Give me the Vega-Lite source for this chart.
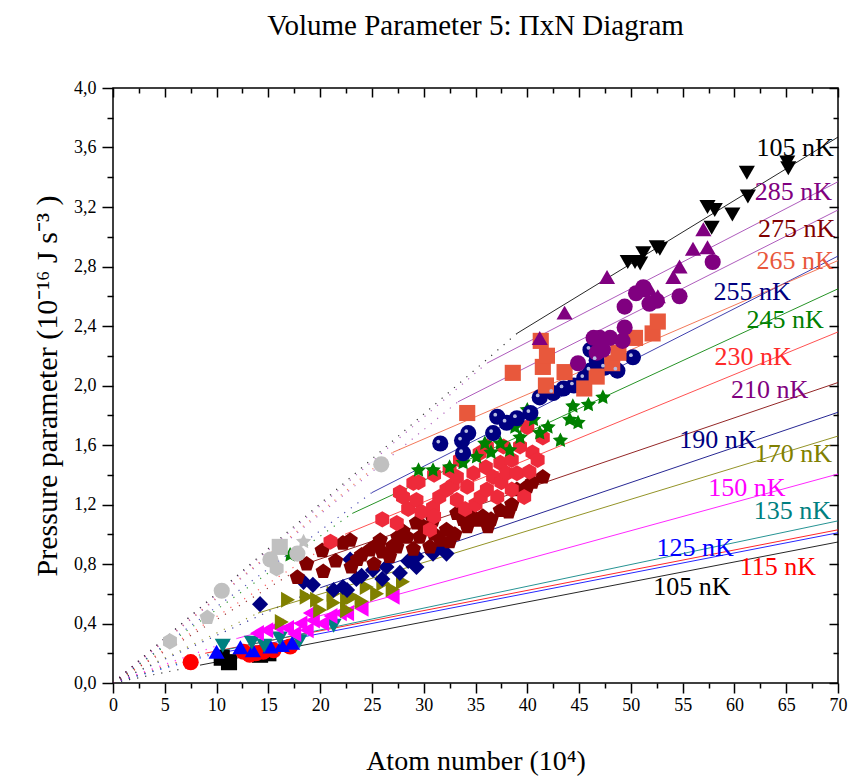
{
  "$schema": "https://vega.github.io/schema/vega-lite/v6.json",
  "width": 725,
  "height": 595,
  "autosize": "none",
  "padding": {"left": 113, "top": 88, "right": 15, "bottom": 98},
  "background": "white",
  "title": {"text": "Volume Parameter 5: ΠxN Diagram", "font": "Liberation Serif", "fontSize": 29, "fontWeight": "normal", "color": "black", "anchor": "middle", "offset": 38},
  "config": {
    "view": {"stroke": "black", "strokeWidth": 1.5},
    "axis": {"labelFont": "Liberation Serif", "titleFont": "Liberation Serif", "labelColor": "black", "titleColor": "black", "tickColor": "black", "titleFontWeight": "normal", "grid": false, "domain": false, "tickWidth": 1.5}
  },
  "datasets": {
    "pts": [
      {"g":"105a","N":10.5,"P":0.17},{"g":"105a","N":11.2,"P":0.14},{"g":"105a","N":14.2,"P":0.19},{"g":"105a","N":15.0,"P":0.2},
      {"g":"115","N":7.5,"P":0.14},{"g":"115","N":12.6,"P":0.21},{"g":"115","N":13.2,"P":0.19},{"g":"115","N":13.8,"P":0.2},{"g":"115","N":14.5,"P":0.21},{"g":"115","N":15.5,"P":0.22},{"g":"115","N":17.1,"P":0.245},
      {"g":"125","N":10.0,"P":0.21},{"g":"125","N":12.3,"P":0.24},{"g":"125","N":13.5,"P":0.22},{"g":"125","N":15.2,"P":0.245},{"g":"125","N":16.3,"P":0.255},{"g":"125","N":17.3,"P":0.27},
      {"g":"135","N":10.6,"P":0.25},{"g":"135","N":13.4,"P":0.27},{"g":"135","N":14.6,"P":0.25},{"g":"135","N":16.1,"P":0.3},{"g":"135","N":18.0,"P":0.28},{"g":"135","N":21.3,"P":0.385},
      {"g":"150","N":13.9,"P":0.335},{"g":"150","N":14.8,"P":0.355},{"g":"150","N":15.8,"P":0.38},{"g":"150","N":16.8,"P":0.37},{"g":"150","N":17.5,"P":0.33},{"g":"150","N":18.1,"P":0.4},{"g":"150","N":18.7,"P":0.355},{"g":"150","N":19.3,"P":0.42},{"g":"150","N":19.0,"P":0.47},{"g":"150","N":20.2,"P":0.4},{"g":"150","N":21.0,"P":0.45},{"g":"150","N":21.9,"P":0.47},{"g":"150","N":22.6,"P":0.47},{"g":"150","N":24.0,"P":0.5},{"g":"150","N":27.0,"P":0.58},
      {"g":"170","N":16.3,"P":0.41},{"g":"170","N":16.9,"P":0.56},{"g":"170","N":18.7,"P":0.58},{"g":"170","N":19.7,"P":0.56},{"g":"170","N":20.0,"P":0.49},{"g":"170","N":21.3,"P":0.54},{"g":"170","N":21.3,"P":0.6},{"g":"170","N":22.6,"P":0.56},{"g":"170","N":22.6,"P":0.49},{"g":"170","N":23.2,"P":0.58},{"g":"170","N":24.0,"P":0.55},{"g":"170","N":24.5,"P":0.645},{"g":"170","N":25.5,"P":0.6},{"g":"170","N":26.1,"P":0.67},{"g":"170","N":27.0,"P":0.63},{"g":"170","N":28.0,"P":0.68},
      {"g":"190","N":14.2,"P":0.53},{"g":"190","N":18.4,"P":0.68},{"g":"190","N":19.3,"P":0.66},{"g":"190","N":21.3,"P":0.625},{"g":"190","N":22.2,"P":0.645},{"g":"190","N":22.6,"P":0.625},{"g":"190","N":22.9,"P":0.83},{"g":"190","N":23.5,"P":0.7},{"g":"190","N":24.0,"P":0.72},{"g":"190","N":25.1,"P":0.76},{"g":"190","N":26.0,"P":0.7},{"g":"190","N":26.4,"P":0.78},{"g":"190","N":27.7,"P":0.74},{"g":"190","N":28.5,"P":0.82},{"g":"190","N":29.3,"P":0.78},{"g":"190","N":29.3,"P":0.85},{"g":"190","N":30.9,"P":0.87},{"g":"190","N":31.6,"P":0.915},{"g":"190","N":32.2,"P":0.87},
      {"g":"210","N":17.8,"P":0.71},{"g":"210","N":18.7,"P":0.8},{"g":"210","N":20.2,"P":0.89},{"g":"210","N":20.3,"P":0.75},{"g":"210","N":21.5,"P":0.82},{"g":"210","N":22.2,"P":0.94},{"g":"210","N":22.9,"P":0.96},{"g":"210","N":23.0,"P":0.78},{"g":"210","N":23.6,"P":0.83},{"g":"210","N":24.0,"P":0.86},{"g":"210","N":24.8,"P":0.895},{"g":"210","N":25.2,"P":0.8},{"g":"210","N":25.5,"P":0.93},{"g":"210","N":25.8,"P":0.96},{"g":"210","N":26.0,"P":0.88},{"g":"210","N":26.7,"P":0.85},{"g":"210","N":27.0,"P":0.92},{"g":"210","N":27.4,"P":0.915},{"g":"210","N":27.5,"P":0.98},{"g":"210","N":28.0,"P":1.02},{"g":"210","N":28.4,"P":0.98},{"g":"210","N":29.0,"P":0.9},{"g":"210","N":29.3,"P":1.075},{"g":"210","N":29.6,"P":0.98},{"g":"210","N":30.0,"P":1.05},{"g":"210","N":30.6,"P":0.915},{"g":"210","N":30.9,"P":1.095},{"g":"210","N":31.0,"P":1.0},{"g":"210","N":31.6,"P":0.96},{"g":"210","N":32.2,"P":1.03},{"g":"210","N":32.5,"P":0.95},{"g":"210","N":33.0,"P":1.0},{"g":"210","N":33.2,"P":1.14},{"g":"210","N":33.8,"P":1.1},{"g":"210","N":34.2,"P":1.05},{"g":"210","N":34.5,"P":1.13},{"g":"210","N":35.1,"P":1.095},{"g":"210","N":35.7,"P":1.12},{"g":"210","N":36.2,"P":1.05},{"g":"210","N":36.5,"P":1.1},{"g":"210","N":37.4,"P":1.16},{"g":"210","N":38.2,"P":1.15},{"g":"210","N":38.5,"P":1.2},{"g":"210","N":39.0,"P":1.3},{"g":"210","N":40.0,"P":1.32},{"g":"210","N":40.5,"P":1.35},{"g":"210","N":41.5,"P":1.385},
      {"g":"230","N":21.0,"P":0.95},{"g":"230","N":26.0,"P":1.1},{"g":"230","N":27.4,"P":1.075},{"g":"230","N":27.7,"P":1.28},{"g":"230","N":28.0,"P":1.25},{"g":"230","N":28.5,"P":1.17},{"g":"230","N":29.0,"P":1.345},{"g":"230","N":29.3,"P":1.23},{"g":"230","N":29.5,"P":1.35},{"g":"230","N":29.8,"P":1.15},{"g":"230","N":30.6,"P":1.03},{"g":"230","N":30.9,"P":1.18},{"g":"230","N":31.0,"P":1.4},{"g":"230","N":31.0,"P":1.12},{"g":"230","N":31.5,"P":1.25},{"g":"230","N":32.2,"P":1.3},{"g":"230","N":32.5,"P":1.43},{"g":"230","N":32.8,"P":1.33},{"g":"230","N":33.2,"P":1.385},{"g":"230","N":33.2,"P":1.23},{"g":"230","N":33.5,"P":1.5},{"g":"230","N":34.0,"P":1.17},{"g":"230","N":34.2,"P":1.32},{"g":"230","N":34.8,"P":1.41},{"g":"230","N":35.0,"P":1.2},{"g":"230","N":35.4,"P":1.545},{"g":"230","N":35.5,"P":1.25},{"g":"230","N":36.0,"P":1.45},{"g":"230","N":36.1,"P":1.3},{"g":"230","N":36.1,"P":1.59},{"g":"230","N":36.7,"P":1.385},{"g":"230","N":37.1,"P":1.25},{"g":"230","N":37.4,"P":1.48},{"g":"230","N":37.5,"P":1.35},{"g":"230","N":37.7,"P":1.59},{"g":"230","N":38.0,"P":1.41},{"g":"230","N":38.5,"P":1.5},{"g":"230","N":38.5,"P":1.3},{"g":"230","N":39.0,"P":1.41},{"g":"230","N":39.3,"P":1.59},{"g":"230","N":39.7,"P":1.25},{"g":"230","N":40.0,"P":1.72},{"g":"230","N":40.2,"P":1.42},{"g":"230","N":40.5,"P":1.55},{"g":"230","N":41.0,"P":1.5},{"g":"230","N":41.5,"P":1.65},
      {"g":"245","N":17.1,"P":0.86},{"g":"245","N":29.5,"P":1.43},{"g":"245","N":30.9,"P":1.43},{"g":"245","N":32.5,"P":1.45},{"g":"245","N":33.8,"P":1.48},{"g":"245","N":35.1,"P":1.52},{"g":"245","N":35.9,"P":1.61},{"g":"245","N":36.5,"P":1.55},{"g":"245","N":37.4,"P":1.61},{"g":"245","N":38.3,"P":1.565},{"g":"245","N":38.8,"P":1.72},{"g":"245","N":39.3,"P":1.65},{"g":"245","N":40.0,"P":1.835},{"g":"245","N":40.6,"P":1.77},{"g":"245","N":41.2,"P":1.68},{"g":"245","N":42.0,"P":1.72},{"g":"245","N":43.2,"P":1.63},{"g":"245","N":44.1,"P":1.77},{"g":"245","N":44.9,"P":1.75},{"g":"245","N":44.4,"P":1.86},{"g":"245","N":45.9,"P":1.87},{"g":"245","N":47.3,"P":1.92},
      {"g":"255","N":31.6,"P":1.61},{"g":"255","N":33.7,"P":1.63},{"g":"255","N":34.3,"P":1.68},{"g":"255","N":33.8,"P":1.545},{"g":"255","N":36.7,"P":1.68},{"g":"255","N":38.0,"P":1.75},{"g":"255","N":37.1,"P":1.79},{"g":"255","N":39.0,"P":1.78},{"g":"255","N":40.3,"P":1.815},{"g":"255","N":41.2,"P":1.92},{"g":"255","N":42.5,"P":1.95},{"g":"255","N":43.5,"P":1.98},{"g":"255","N":44.5,"P":2.0},{"g":"255","N":45.5,"P":2.05},{"g":"255","N":46.1,"P":2.1},{"g":"255","N":46.1,"P":2.24},{"g":"255","N":46.7,"P":2.17},{"g":"255","N":47.5,"P":2.12},{"g":"255","N":48.7,"P":2.1},{"g":"255","N":50.2,"P":2.19},
      {"g":"265","N":34.2,"P":1.815},{"g":"265","N":38.6,"P":2.085},{"g":"265","N":41.5,"P":2.125},{"g":"265","N":41.8,"P":2.0},{"g":"265","N":41.9,"P":2.2},{"g":"265","N":41.3,"P":2.3},{"g":"265","N":43.6,"P":2.09},{"g":"265","N":45.5,"P":1.98},{"g":"265","N":46.7,"P":2.06},{"g":"265","N":48.2,"P":2.15},{"g":"265","N":48.8,"P":2.22},{"g":"265","N":50.4,"P":2.32},{"g":"265","N":52.1,"P":2.35},{"g":"265","N":52.6,"P":2.43},
      {"g":"275","N":44.9,"P":2.15},{"g":"275","N":46.4,"P":2.32},{"g":"275","N":46.7,"P":2.22},{"g":"275","N":47.0,"P":2.32},{"g":"275","N":47.3,"P":2.24},{"g":"275","N":48.0,"P":2.32},{"g":"275","N":49.2,"P":2.3},{"g":"275","N":49.4,"P":2.39},{"g":"275","N":49.4,"P":2.53},{"g":"275","N":50.5,"P":2.62},{"g":"275","N":51.2,"P":2.66},{"g":"275","N":51.8,"P":2.55},{"g":"275","N":52.5,"P":2.57},{"g":"275","N":54.7,"P":2.6},{"g":"275","N":57.9,"P":2.83},
      {"g":"285","N":41.2,"P":2.32},{"g":"285","N":43.6,"P":2.49},{"g":"285","N":47.7,"P":2.73},{"g":"285","N":51.2,"P":2.64},{"g":"285","N":51.8,"P":2.65},{"g":"285","N":52.6,"P":2.6},{"g":"285","N":54.1,"P":2.73},{"g":"285","N":54.7,"P":2.8},{"g":"285","N":56.0,"P":2.92},{"g":"285","N":57.4,"P":2.93},{"g":"285","N":57.0,"P":3.05},
      {"g":"105b","N":49.7,"P":2.83},{"g":"105b","N":50.4,"P":2.83},{"g":"105b","N":50.9,"P":2.82},{"g":"105b","N":51.2,"P":2.89},{"g":"105b","N":52.5,"P":2.93},{"g":"105b","N":52.8,"P":2.92},{"g":"105b","N":57.4,"P":3.2},{"g":"105b","N":58.1,"P":3.18},{"g":"105b","N":57.8,"P":3.06},{"g":"105b","N":59.8,"P":3.15},{"g":"105b","N":61.2,"P":3.43},{"g":"105b","N":61.3,"P":3.27},{"g":"105b","N":65.1,"P":3.5},{"g":"105b","N":65.2,"P":3.46},
      {"g":"gh","N":5.5,"P":0.28},{"g":"gp","N":9.1,"P":0.44},{"g":"gc","N":10.5,"P":0.62},{"g":"gc","N":15.2,"P":0.83},{"g":"gh","N":15.8,"P":0.77},{"g":"gs","N":16.1,"P":0.915},{"g":"gc","N":17.8,"P":0.87},{"g":"gst","N":18.4,"P":0.95},{"g":"gc","N":25.9,"P":1.47}
    ],
    "lines": [
      {"T":"105a","s":"dot","N":0,"P":0},{"T":"105a","s":"dot","N":8.4,"P":0.12},{"T":"105a","s":"solid","N":8.4,"P":0.12},{"T":"105a","s":"solid","N":70,"P":0.948},
      {"T":"115","s":"dot","N":0,"P":0},{"T":"115","s":"dot","N":8.9,"P":0.2},{"T":"115","s":"solid","N":8.9,"P":0.2},{"T":"115","s":"solid","N":70,"P":1.03},
      {"T":"125","s":"dot","N":0,"P":0},{"T":"125","s":"dot","N":9.5,"P":0.19},{"T":"125","s":"solid","N":9.5,"P":0.19},{"T":"125","s":"solid","N":70,"P":1.01},
      {"T":"135","s":"dot","N":0,"P":0},{"T":"135","s":"dot","N":10,"P":0.21},{"T":"135","s":"solid","N":10,"P":0.21},{"T":"135","s":"solid","N":70,"P":1.09},
      {"T":"150","s":"dot","N":0,"P":0},{"T":"150","s":"dot","N":12,"P":0.3},{"T":"150","s":"solid","N":12,"P":0.3},{"T":"150","s":"solid","N":70,"P":1.405},
      {"T":"170","s":"dot","N":0,"P":0},{"T":"170","s":"dot","N":14,"P":0.47},{"T":"170","s":"solid","N":14,"P":0.47},{"T":"170","s":"solid","N":70,"P":1.66},
      {"T":"190","s":"dot","N":0,"P":0},{"T":"190","s":"dot","N":20,"P":0.64},{"T":"190","s":"solid","N":20,"P":0.64},{"T":"190","s":"solid","N":70,"P":1.82},
      {"T":"210","s":"dot","N":0,"P":0},{"T":"210","s":"dot","N":19,"P":0.81},{"T":"210","s":"solid","N":19,"P":0.81},{"T":"210","s":"solid","N":70,"P":2.02},
      {"T":"230","s":"dot","N":0,"P":0},{"T":"230","s":"dot","N":22.4,"P":1.0},{"T":"230","s":"solid","N":22.4,"P":1.0},{"T":"230","s":"solid","N":70,"P":2.36},
      {"T":"245","s":"dot","N":0,"P":0},{"T":"245","s":"dot","N":23.1,"P":1.14},{"T":"245","s":"solid","N":23.1,"P":1.14},{"T":"245","s":"solid","N":70,"P":2.65},
      {"T":"255","s":"dot","N":0,"P":0},{"T":"255","s":"dot","N":25,"P":1.28},{"T":"255","s":"solid","N":25,"P":1.28},{"T":"255","s":"solid","N":70,"P":2.87},
      {"T":"265","s":"dot","N":0,"P":0},{"T":"265","s":"dot","N":27,"P":1.55},{"T":"265","s":"solid","N":27,"P":1.55},{"T":"265","s":"solid","N":70,"P":2.84},
      {"T":"275","s":"dot","N":0,"P":0},{"T":"275","s":"dot","N":33.3,"P":1.89},{"T":"275","s":"solid","N":33.3,"P":1.89},{"T":"275","s":"solid","N":70,"P":3.18},
      {"T":"285","s":"dot","N":0,"P":0},{"T":"285","s":"dot","N":36.1,"P":2.15},{"T":"285","s":"solid","N":36.1,"P":2.15},{"T":"285","s":"solid","N":70,"P":3.37},
      {"T":"105b","s":"dot","N":0,"P":0},{"T":"105b","s":"dot","N":39.0,"P":2.35},{"T":"105b","s":"solid","N":39.0,"P":2.35},{"T":"105b","s":"solid","N":70,"P":3.67}
    ],
    "labels": [
      {"t":"105 nK","k":"l105b","N":65.85,"P":3.595},
      {"t":"285 nK","k":"l285","N":65.7,"P":3.3},
      {"t":"275 nK","k":"l275","N":66.0,"P":3.05},
      {"t":"265 nK","k":"l265","N":65.85,"P":2.84},
      {"t":"255 nK","k":"l255","N":61.7,"P":2.63},
      {"t":"245 nK","k":"l245","N":64.9,"P":2.44},
      {"t":"230 nK","k":"l230","N":61.8,"P":2.19},
      {"t":"210 nK","k":"l210","N":63.4,"P":1.97},
      {"t":"190 nK","k":"l190","N":58.4,"P":1.634},
      {"t":"170 nK","k":"l170","N":65.7,"P":1.54},
      {"t":"150 nK","k":"l150","N":61.2,"P":1.31},
      {"t":"135 nK","k":"l135","N":65.6,"P":1.157},
      {"t":"125 nK","k":"l125","N":56.2,"P":0.908},
      {"t":"115 nK","k":"l115","N":64.2,"P":0.78},
      {"t":"105 nK","k":"l105a","N":55.9,"P":0.645}
    ]
  },
  "resolve": {"scale": {"color": "independent", "shape": "independent"}},
  "layer": [
    {
      "data": {"name": "lines"},
      "transform": [{"filter": "datum.s == 'dot'"}],
      "mark": {"type": "line", "strokeWidth": 1.2, "strokeDash": [1.2, 7], "opacity": 0.8, "clip": true},
      "encoding": {
        "x": {"field": "N", "type": "quantitative", "scale": {"domain": [0, 70], "nice": false, "zero": false},
          "axis": {"orient": "top", "values": [0,2.5,5,7.5,10,12.5,15,17.5,20,22.5,25,27.5,30,32.5,35,37.5,40,42.5,45,47.5,50,52.5,55,57.5,60,62.5,65,67.5,70], "labels": false, "title": null,
            "tickSize": {"condition": {"test": "datum.value % 5 != 0", "value": -5}, "value": -9}}},
        "y": {"field": "P", "type": "quantitative", "scale": {"domain": [0, 4], "nice": false, "zero": false},
          "axis": {"orient": "right", "values": [0,0.2,0.4,0.6,0.8,1,1.2,1.4,1.6,1.8,2,2.2,2.4,2.6,2.8,3,3.2,3.4,3.6,3.8,4], "labels": false, "title": null,
            "tickSize": {"condition": {"test": "round(datum.value*10) % 4 != 0", "value": -5}, "value": -9}}},
        "color": {"field": "T", "type": "nominal", "legend": null,
          "scale": {"domain": ["105a","115","125","135","150","170","190","210","230","245","255","265","275","285","105b"],
            "range": ["#000000","#ff0000","#0000ff","#008080","#ff00ff","#808000","#000080","#800000","#ff3333","#008000","#2020a0","#f0603c","#a040b0","#a040b0","#000000"]}},
        "detail": {"field": "T"}
      }
    },
    {
      "data": {"name": "lines"},
      "transform": [{"filter": "datum.s == 'solid'"}],
      "mark": {"type": "line", "strokeWidth": 1, "opacity": 0.85, "clip": true},
      "encoding": {
        "x": {"field": "N", "type": "quantitative", "axis": null},
        "y": {"field": "P", "type": "quantitative", "axis": null},
        "color": {"field": "T", "type": "nominal", "legend": null,
          "scale": {"domain": ["105a","115","125","135","150","170","190","210","230","245","255","265","275","285","105b"],
            "range": ["#000000","#ff0000","#0000ff","#008080","#ff00ff","#808000","#000080","#800000","#ff3333","#008000","#2020a0","#f0603c","#a040b0","#a040b0","#000000"]}},
        "detail": {"field": "T"}
      }
    },
    {
      "data": {"name": "pts"},
      "mark": {"type": "point", "filled": true, "opacity": 1, "size": 260, "strokeWidth": 0},
      "encoding": {
        "x": {"field": "N", "type": "quantitative",
          "axis": {"orient": "bottom", "values": [0,2.5,5,7.5,10,12.5,15,17.5,20,22.5,25,27.5,30,32.5,35,37.5,40,42.5,45,47.5,50,52.5,55,57.5,60,62.5,65,67.5,70],
            "labelExpr": "datum.value % 5 == 0 ? datum.label : ''", "labelFont": "Liberation Serif", "labelFontSize": 18, "labelPadding": 3, "labelFlush": false,
            "tickSize": {"condition": {"test": "datum.value % 5 != 0", "value": 5}, "value": 10},
            "title": "Atom number (10⁴)", "titleFont": "Liberation Serif", "titleFontSize": 28, "titlePadding": 33}},
        "y": {"field": "P", "type": "quantitative",
          "axis": {"orient": "left", "values": [0,0.2,0.4,0.6,0.8,1,1.2,1.4,1.6,1.8,2,2.2,2.4,2.6,2.8,3,3.2,3.4,3.6,3.8,4],
            "labelExpr": "round(datum.value*10) % 4 == 0 ? replace(format(datum.value, '.1f'), '.', ',') : ''", "labelFont": "Liberation Serif", "labelFontSize": 18, "labelPadding": 6, "labelFlush": false,
            "tickSize": {"condition": {"test": "round(datum.value*10) % 4 != 0", "value": 6}, "value": 11},
            "title": "Pressure parameter (10⁻¹⁶ J s⁻³ )", "titleFont": "Liberation Serif", "titleFontSize": 30, "titlePadding": 11}},
        "color": {"field": "g", "type": "nominal", "legend": null,
          "scale": {"domain": ["105a","115","125","135","150","170","190","210","230","245","255","265","275","285","105b","gc","gp","gh","gs","gst"],
            "range": ["#000000","#ff0000","#0000ff","#008080","#ff00ff","#808000","#000080","#800000","#ee2a3a","#008000","#000080","#e8583c","#800080","#800080","#000000","#c0c0c0","#c0c0c0","#c0c0c0","#c0c0c0","#c0c0c0"]}},
        "shape": {"field": "g", "type": "nominal", "legend": null,
          "scale": {"domain": ["105a","115","125","135","150","170","190","210","230","245","255","265","275","285","105b","gc","gp","gh","gs","gst"],
            "range": ["square","circle","triangle-up","triangle-down","triangle-left","triangle-right","diamond",
              "M0,-1L0.951,-0.309L0.588,0.809L-0.588,0.809L-0.951,-0.309Z",
              "M0,-1L0.866,-0.5L0.866,0.5L0,1L-0.866,0.5L-0.866,-0.5Z",
              "M0,-1L0.294,-0.405L0.951,-0.309L0.476,0.155L0.588,0.809L0,0.5L-0.588,0.809L-0.476,0.155L-0.951,-0.309L-0.294,-0.405Z",
              "circle","square","circle","triangle-up","triangle-down","circle",
              "M0,-1L0.951,-0.309L0.588,0.809L-0.588,0.809L-0.951,-0.309Z",
              "M0,-1L0.866,-0.5L0.866,0.5L0,1L-0.866,0.5L-0.866,-0.5Z",
              "square",
              "M0,-1L0.294,-0.405L0.951,-0.309L0.476,0.155L0.588,0.809L0,0.5L-0.588,0.809L-0.476,0.155L-0.951,-0.309L-0.294,-0.405Z"]}}
      }
    },
    {
      "data": {"name": "pts"},
      "transform": [{"filter": "datum.g == '255'"}],
      "mark": {"type": "point", "shape": "circle", "filled": true, "color": "#b8bce0", "size": 14, "xOffset": -2, "yOffset": -2, "opacity": 1},
      "encoding": {
        "x": {"field": "N", "type": "quantitative", "axis": null},
        "y": {"field": "P", "type": "quantitative", "axis": null}
      }
    },
    {
      "data": {"name": "labels"},
      "mark": {"type": "text", "font": "Liberation Serif", "fontSize": 26, "align": "center", "baseline": "middle"},
      "encoding": {
        "x": {"field": "N", "type": "quantitative", "axis": null},
        "y": {"field": "P", "type": "quantitative", "axis": null},
        "text": {"field": "t"},
        "color": {"field": "k", "type": "nominal", "legend": null,
          "scale": {"domain": ["l105b","l285","l275","l265","l255","l245","l230","l210","l190","l170","l150","l135","l125","l115","l105a"],
            "range": ["#000000","#800080","#800000","#e8583c","#000080","#008000","#ff2a2a","#800080","#000080","#808000","#ff00ff","#008080","#0000ff","#ff0000","#000000"]}}
      }
    }
  ]
}
